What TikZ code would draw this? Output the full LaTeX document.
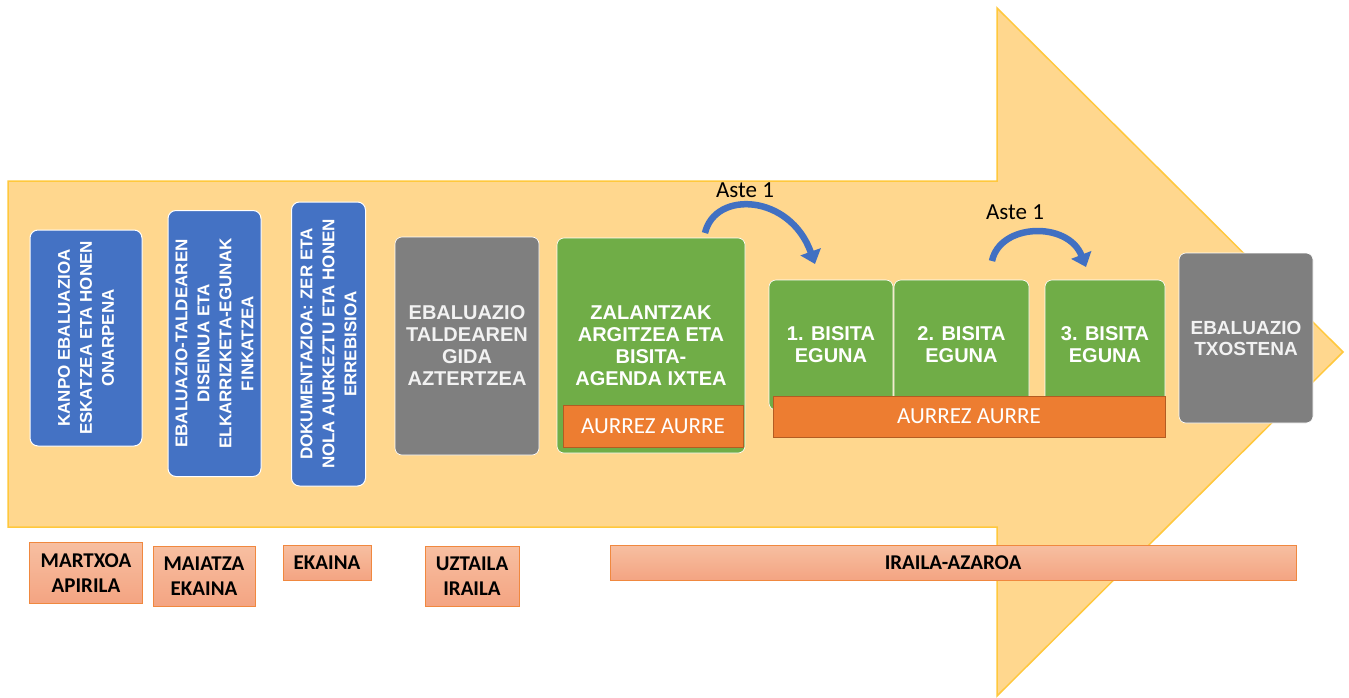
\documentclass[tikz,border=0pt]{standalone}
\usepackage{fontspec}
\setmainfont{Liberation Sans}
\newfontfamily\calibri{Carlito}
\usetikzlibrary{arrows.meta}
\definecolor{arrowfill}{HTML}{FFD78E}
\definecolor{arrowline}{HTML}{FFC83D}
\definecolor{boxblue}{HTML}{4472C4}
\definecolor{boxgrey}{HTML}{7F7F7F}
\definecolor{boxgreen}{HTML}{70AD47}
\definecolor{boxorange}{HTML}{ED7D31}
\definecolor{orangeline}{HTML}{B35C22}
\definecolor{monthtop}{HTML}{F7BFA1}
\definecolor{monthbot}{HTML}{F4A482}
\definecolor{monthline}{HTML}{F0883F}
\definecolor{curveblue}{HTML}{4170C2}

\begin{document}
\begin{tikzpicture}[x=1pt,y=-1pt,
  bluebox/.style={rounded corners=8pt,fill=boxblue,draw=white,line width=1pt,rotate=90,text=white,align=center,inner sep=0pt,font=\bfseries\fontsize{17}{22}\selectfont},
  greybox/.style={rounded corners=7pt,fill=boxgrey,draw=white,line width=.6pt,text=white!95!black,align=center,inner sep=0pt,font=\bfseries\fontsize{20}{22}\selectfont},
  greenbox/.style={rounded corners=7pt,fill=boxgreen,draw=white,line width=.6pt,text=white,align=center,inner sep=0pt,font=\bfseries\fontsize{20}{22}\selectfont},
  facebox/.style={fill=boxorange,draw=orangeline,line width=.8pt,text=white,inner sep=0pt,font=\calibri\fontsize{23}{26}\selectfont},
  monthbox/.style={top color=monthtop,bottom color=monthbot,draw=monthline,line width=.8pt,align=center,inner sep=0pt,font=\calibri\bfseries\fontsize{21}{25}\selectfont},
  weekarrow/.style={curveblue,line width=6.5pt,-{Triangle[length=13pt,width=21pt]}},
  weeklabel/.style={font=\calibri\fontsize{23}{26}\selectfont}]
\useasboundingbox (0,0) rectangle (1349,698);
\fill[white] (0,0) rectangle (1349,698);
\draw[fill=arrowfill,draw=arrowline,line width=1.5pt,line join=miter] (8,181) -- (997,181) -- (997,8) -- (1343,352) -- (997,696) -- (997,527) -- (8,527) -- cycle;

\node[bluebox,minimum width=216pt,minimum height=112pt] (kanpo) at (86,338) {KANPO EBALUAZIOA\\ESKATZEA ETA HONEN\\ONARPENA};
\node[bluebox,minimum width=266pt,minimum height=93pt] (diseinua) at (214.5,343.5) {EBALUAZIO-TALDEAREN\\DISEINUA ETA\\ELKARRIZKETA-EGUNAK\\FINKATZEA};
\node[bluebox,minimum width=284pt,minimum height=74pt] (dokum) at (328.5,344) {DOKUMENTAZIOA: ZER ETA\\NOLA AURKEZTU ETA HONEN\\ERREBISIOA};

\node[greybox,minimum width=144pt,minimum height=218pt] (gida) at (467,346) {EBALUAZIO\\TALDEAREN\\GIDA\\AZTERTZEA};
\node[greenbox,minimum width=188pt,minimum height=215pt] (zalantza) at (651,345.5) {ZALANTZAK\\ARGITZEA ETA\\BISITA-\\AGENDA IXTEA};
\node[facebox,minimum width=180pt,minimum height=42pt] (aurre1) at (653,426) {AURREZ AURRE};

\node[greenbox,minimum width=124pt,minimum height=130pt] (bisita1) at (831,345) {1. BISITA\\EGUNA};
\node[greenbox,minimum width=135pt,minimum height=130pt] (bisita2) at (961.5,345) {2. BISITA\\EGUNA};
\node[greenbox,minimum width=120pt,minimum height=130pt] (bisita3) at (1105,345) {3. BISITA\\EGUNA};
\node[facebox,minimum width=392pt,minimum height=41pt] (aurre2) at (969,416.5) {AURREZ AURRE};

\node[greybox,minimum width=134pt,minimum height=170pt,font=\bfseries\fontsize{19}{21}\selectfont] (txostena) at (1246,338) {EBALUAZIO\\TXOSTENA};

\coordinate (a1s) at (705,233);
\coordinate (a1e) at (815,264);
\coordinate (a2s) at (992,261);
\coordinate (a2e) at (1086,267);
\draw[weekarrow] (a1s) .. controls (715,190) and (790,194) .. (a1e);
\draw[weekarrow] (a2s) .. controls (1000,223) and (1068,221) .. (a2e);
\node[weeklabel] (aste1) at (745,190) {Aste 1};
\node[weeklabel] (aste2) at (1015,212) {Aste 1};

\node[monthbox,minimum width=113pt,minimum height=61pt] (martxoa) at (86,573) {MARTXOA\\APIRILA};
\node[monthbox,minimum width=102pt,minimum height=60pt] (maiatza) at (204,576) {MAIATZA\\EKAINA};
\node[monthbox,minimum width=88pt,minimum height=35pt] (ekaina) at (327,562.5) {EKAINA};
\node[monthbox,minimum width=94pt,minimum height=60pt] (uztaila) at (472,576) {UZTAILA\\IRAILA};
\node[monthbox,minimum width=686pt,minimum height=35pt] (iraila) at (953,562.5) {IRAILA-AZAROA};
\end{tikzpicture}
\end{document}
